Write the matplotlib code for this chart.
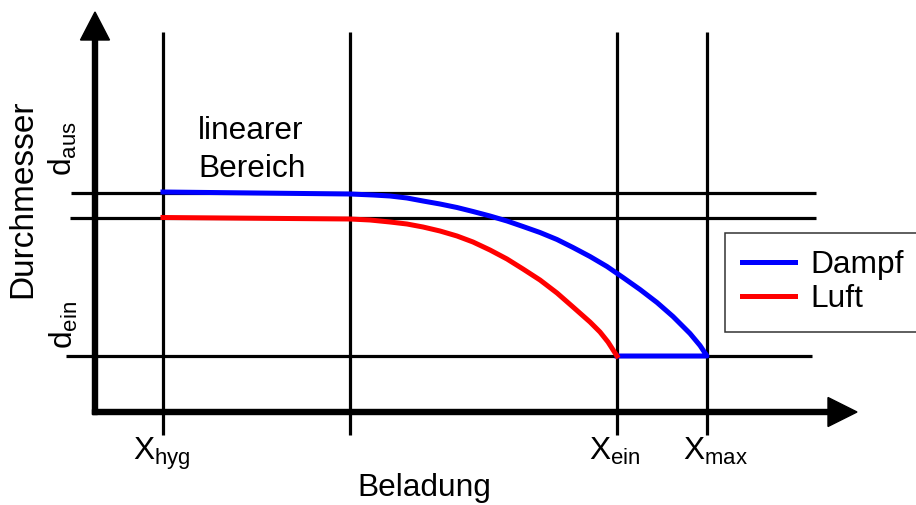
import numpy as np
import matplotlib.pyplot as plt

plt.rcParams['font.family'] = ['Liberation Sans', 'DejaVu Sans']
plt.rcParams['mathtext.fontset'] = 'custom'
plt.rcParams['mathtext.rm'] = 'Liberation Sans'
plt.rcParams['mathtext.it'] = 'Liberation Sans:italic'

# key positions on the Beladung axis and Durchmesser levels
x_marks = [0.68, 2.55, 5.22, 6.12]
x_labels = [r'X$_{\rm hyg}$', '', r'X$_{\rm ein}$', r'X$_{\rm max}$']
x_label_pos = [0.67, 2.55, 5.20, 6.20]
d_levels = [2.19, 1.94, 0.56]

# curves
dampf_x = [0.68, 2.55, 2.78, 2.95, 3.12, 3.28, 3.45, 3.62, 3.78, 3.95, 4.12,
           4.28, 4.45, 4.62, 4.78, 4.95, 5.12, 5.28, 5.45, 5.62, 5.78, 5.95,
           6.05, 6.12, 5.22]
dampf_y = [2.20, 2.18, 2.17, 2.16, 2.14, 2.11, 2.08, 2.045, 2.005, 1.96, 1.91,
           1.855, 1.795, 1.725, 1.645, 1.555, 1.455, 1.345, 1.225, 1.095, 0.955, 0.785,
           0.665, 0.56, 0.56]
luft_x = [0.68, 2.55, 2.75, 2.95, 3.12, 3.28, 3.45, 3.62, 3.78, 3.95, 4.12,
          4.28, 4.45, 4.62, 4.78, 4.95, 5.05, 5.13, 5.22]
luft_y = [1.945, 1.93, 1.92, 1.90, 1.88, 1.85, 1.81, 1.76, 1.70, 1.62, 1.53,
          1.43, 1.32, 1.19, 1.05, 0.90, 0.80, 0.70, 0.56]

fs = 22.8

fig = plt.figure(figsize=(9.16, 5.05), dpi=100)
ax = fig.add_axes([0, 0, 1, 1])
ax.set_xlim(-0.95, 8.21)
ax.set_ylim(-0.93, 4.12)
ax.axis('off')

# grid lines
for x in x_marks:
    ax.plot([x, x], [-0.23, 3.80], color='k', lw=2.3, zorder=1, solid_capstyle='butt')
ax.plot([-0.24, 7.21], [d_levels[0]] * 2, color='k', lw=2.3, zorder=1, solid_capstyle='butt')
ax.plot([-0.25, 7.21], [d_levels[1]] * 2, color='k', lw=2.3, zorder=1, solid_capstyle='butt')
ax.plot([-0.29, 7.17], [d_levels[2]] * 2, color='k', lw=2.3, zorder=1, solid_capstyle='butt')

# axes with arrows
ax.arrow(0, -0.025, 0, 4.025, width=0.05, head_width=0.29, head_length=0.28,
         length_includes_head=True, color='k', zorder=3)
ax.arrow(-0.025, 0, 7.645, 0, width=0.05, head_width=0.29, head_length=0.29,
         length_includes_head=True, color='k', zorder=3)

ax.plot(dampf_x, dampf_y, color='#0000ff', lw=3.6, zorder=4, label='Dampf',
        solid_joinstyle='round')
ax.plot(luft_x, luft_y, color='#ff0000', lw=3.6, zorder=4, label='Luft',
        solid_joinstyle='round')

# labels
for x, lab in zip(x_label_pos, x_labels):
    if lab:
        ax.text(x, -0.48, lab, fontsize=fs, ha='center', va='baseline')
ax.text(-0.32, 2.63, r'd$_{\rm aus}$', fontsize=fs, rotation=90, ha='center', va='center')
ax.text(-0.31, 0.87, r'd$_{\rm ein}$', fontsize=fs, rotation=90, ha='center', va='center')
ax.text(-0.725, 2.13, 'Durchmesser', fontsize=24, rotation=90, ha='center', va='center')
ax.text(3.29, -0.84, 'Beladung', fontsize=fs, ha='center', va='baseline')
ax.text(1.03, 2.73, 'linearer', fontsize=fs, ha='left', va='baseline')
ax.text(1.03, 2.35, 'Bereich', fontsize=fs, ha='left', va='baseline')

leg = ax.legend(loc='upper left', bbox_to_anchor=(725 / 916, 1 - 233 / 505),
                bbox_transform=fig.transFigure, fontsize=fs, frameon=True,
                fancybox=False, handlelength=1.65, handletextpad=0.5,
                labelspacing=0.12, borderpad=0.55, borderaxespad=0)
leg.get_frame().set_edgecolor('k')
leg.get_frame().set_linewidth(1.1)

fig.savefig('out.png', dpi=100)
